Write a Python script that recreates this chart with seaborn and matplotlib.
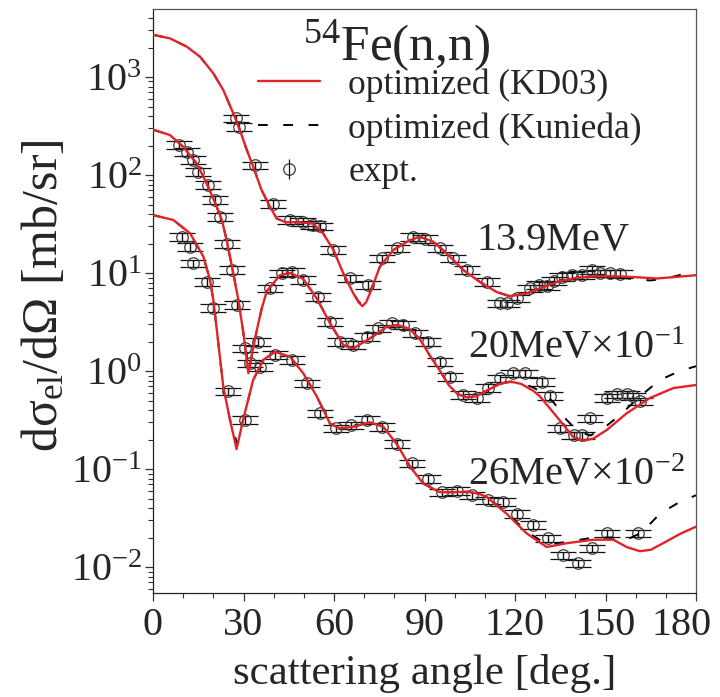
import matplotlib
matplotlib.use("Agg")
import numpy as np
import pandas as pd
import matplotlib.pyplot as plt
import matplotlib.transforms as mtransforms
import seaborn as sns
from matplotlib.lines import Line2D
from matplotlib.legend_handler import HandlerTuple
from matplotlib.ticker import LogLocator, MultipleLocator, LogFormatterMathtext, NullFormatter

# ---------------- data ----------------
# 13.9 MeV, optimized (KD03)
kd13_deg = [0, 5.6, 11.2, 15.6, 20, 23.3, 26.6, 28.8, 31.1, 33.2, 36, 38.8, 41, 44, 48, 53,
            56.4, 59.8, 63.1, 66.4, 68.2, 69.4, 70.6, 71.9, 75.2, 79.7, 85.2, 88.5, 92.9, 97.3,
            102.9, 108.4, 113.9, 118.3, 123.9, 129.4, 135, 140, 145, 150, 156, 162, 167, 173, 180]
kd13_val = [2700, 2480, 2040, 1610, 1090, 736, 427, 288, 180, 122, 70, 47.5, 36, 33, 33, 32,
            25.4, 17.2, 9.9, 6.2, 5.0, 4.6, 5.0, 6.2, 11.6, 17.2, 21.7, 23.4, 20.9, 15.9,
            10.7, 8.1, 6.4, 5.8, 6.2, 7.2, 8.3, 8.9, 9.2, 9.3, 9.2, 9.0, 8.8, 9.1, 9.5]
# 13.9 MeV, optimized (Kunieda)
ku13_deg = [0, 5.6, 11.2, 15.6, 20, 23.3, 26.6, 28.8, 31.1, 33.2, 36, 38.8, 41, 44, 48, 53,
            56.4, 59.8, 63.1, 66.4, 68.2, 69.4, 70.6, 71.9, 75.2, 79.7, 85.2, 88.5, 92.9, 97.3,
            102.9, 108.4, 113.9, 118.3, 123.9, 129.4, 135, 140, 145, 150, 155, 160, 165, 170, 175, 180]
ku13_val = [2700, 2480, 2040, 1610, 1090, 736, 427, 288, 180, 122, 70, 47.5, 36, 33, 33, 32,
            25.4, 17.2, 9.9, 6.2, 5.1, 4.8, 5.2, 6.4, 11.6, 17.2, 21.7, 23.4, 20.9, 15.9,
            10.7, 8.1, 6.4, 5.8, 6.2, 7.2, 8.3, 8.9, 9.2, 9.3, 9.0, 8.6, 8.4, 8.8, 9.6, 10.2]

# 20 MeV x 1e-1, optimized (KD03)
kd20_deg = [0, 5.6, 10, 14.5, 17.8, 21.1, 22.8, 24.4, 26.6, 28.3, 30, 31.6, 33, 34.4, 36, 37.7,
            42.1, 45.4, 49.8, 54.3, 58.7, 63.1, 66.4, 71.9, 77.5, 81, 85, 88.5, 92, 95, 98, 101,
            104, 107, 110.6, 115, 118.5, 122, 126, 128.3, 133.9, 139.4, 143, 146, 150.4, 157,
            164.7, 172.5, 180]
kd20_val = [290, 256, 194, 131, 82, 47.5, 35, 21.7, 10, 5.3, 2.4, 0.95, 1.6, 2.6, 4.3, 6.5,
            9.5, 10, 8.7, 5.5, 3.07, 1.84, 1.7, 2.15, 2.83, 2.95, 2.7, 2.1, 1.4, 1.02, 0.72, 0.58,
            0.54, 0.55, 0.63, 0.74, 0.78, 0.74, 0.63, 0.55, 0.34, 0.21, 0.195, 0.205, 0.25, 0.37,
            0.53, 0.67, 0.72]
# 20 MeV x 1e-1, optimized (Kunieda)
ku20_deg = [0, 5.6, 10, 14.5, 17.8, 21.1, 22.8, 24.4, 26.6, 28.3, 30, 31.8, 33, 34.4, 36, 37.7,
            42.1, 45.4, 49.8, 54.3, 58.7, 63.1, 66.4, 71.9, 77.5, 81, 85, 88.5, 92, 95, 98, 101,
            104, 107, 110.6, 115, 118.5, 122, 126, 130, 133, 137, 141, 145, 150, 155, 161.4,
            168, 174.6, 180]
ku20_val = [290, 256, 194, 131, 82, 47.5, 35, 21.7, 10, 5.3, 2.4, 1.0, 1.6, 2.6, 4.3, 6.5,
            9.5, 10, 8.7, 5.5, 3.07, 1.84, 1.7, 2.15, 2.83, 2.95, 2.7, 2.1, 1.4, 1.02, 0.72, 0.58,
            0.54, 0.55, 0.63, 0.74, 0.78, 0.76, 0.68, 0.58, 0.47, 0.32, 0.24, 0.22, 0.27, 0.36,
            0.55, 0.81, 1.0, 1.12]

# 26 MeV x 1e-2, optimized (KD03)
kd26_deg = [0, 6.7, 12.3, 16.7, 18.9, 20, 21.3, 23.3, 25.5, 27.7, 29.9, 33.2, 36.6, 40.4, 45.4,
            49.8, 54.3, 58.7, 62, 66.4, 71.9, 76.3, 80.8, 85.2, 89.6, 95.1, 100, 104, 108, 110.6,
            117.2, 123.9, 130.5, 137.1, 146, 152.6, 157, 161.4, 165, 169.1, 175, 180]
kd26_val = [39, 34.8, 25.4, 14.7, 8.5, 5.3, 2.4, 0.69, 0.32, 0.16, 0.32, 0.81, 1.3, 1.57, 1.4,
            0.95, 0.55, 0.29, 0.26, 0.27, 0.30, 0.27, 0.18, 0.106, 0.071, 0.058, 0.058, 0.059,
            0.056, 0.052, 0.035, 0.022, 0.016, 0.0175, 0.019, 0.019, 0.016, 0.0145, 0.015,
            0.0175, 0.022, 0.0258]
# 26 MeV x 1e-2, optimized (Kunieda)
ku26_deg = [0, 6.7, 12.3, 16.7, 18.9, 20, 21.3, 23.3, 25.5, 27.9, 29.9, 33.2, 36.6, 40.4, 45.4,
            49.8, 54.3, 58.7, 62, 66.4, 71.9, 76.3, 80.8, 85.2, 89.6, 95.1, 100, 104, 108, 110.6,
            117.2, 123.9, 130.5, 137.1, 146, 152, 157, 161.4, 165, 168, 174, 180]
ku26_val = [39, 34.8, 25.4, 14.7, 8.5, 5.3, 2.4, 0.69, 0.32, 0.18, 0.32, 0.81, 1.3, 1.57, 1.4,
            0.95, 0.55, 0.29, 0.26, 0.27, 0.30, 0.27, 0.18, 0.106, 0.071, 0.058, 0.058, 0.059,
            0.056, 0.052, 0.036, 0.023, 0.017, 0.018, 0.02, 0.02, 0.019, 0.022, 0.028, 0.035,
            0.045, 0.054]

# experimental points
ex13_deg = [27.5, 28.6, 33.8, 39.7, 45.4, 49.8, 53.1, 55.3, 59.8, 65.3, 71.4, 75.8, 80.8, 86.3,
            90.2, 95.1, 99.5, 104, 110.6, 115, 117.5, 120.5, 125, 128, 130.5, 133, 135.5, 138.8,
            142.1, 145.4, 148.2, 151.5, 154.8]
ex13_val = [378, 311, 126, 51, 34.7, 33.4, 30.9, 30, 17.2, 8.8, 7.6, 14.1, 17.9, 23.4,
            22.5, 17.9, 14.1, 10.7, 8.1, 4.9, 4.9, 5.5, 7.0, 7.6, 7.4, 8.3, 9.2, 9.5,
            9.6, 10.7, 9.9, 9.9, 9.8]
ex20_deg = [8.5, 11.2, 13.4, 15, 18.3, 20.5, 22.2, 24.4, 26.1, 27.7, 30.5, 32.2, 34.9, 35.5,
            38.8, 42.6, 46, 49.8, 54.8, 58.7, 62, 66.4, 70.8, 74.7, 79.1, 83, 86.8, 91.3, 95.1,
            98.4, 102.9, 107.3, 111.1, 115, 119.4, 123.3, 128.8, 131.6, 135, 139.4, 142.1,
            144.8, 150.4, 153.7, 157, 159.2, 161.4]
ex20_val = [202, 173, 142, 108, 79, 56, 37.6, 20, 10.7, 4.7, 1.7, 1.2, 2.0, 1.1,
            7.0, 9.9, 10.3, 8.5, 5.7, 3.2, 2.0, 1.84, 2.24, 2.73, 3.07, 2.94, 2.42, 2.0, 1.25,
            0.87, 0.57, 0.53, 0.67, 0.84, 0.95, 0.95, 0.78, 0.56, 0.26, 0.22, 0.22,
            0.33, 0.53, 0.58, 0.58, 0.55, 0.49]
ex26_deg = [9.5, 12.3, 13.4, 17.8, 20, 25, 30.5, 40.4, 46, 50.9, 55.3, 60.8, 65.8, 70.8, 75.8,
            80.8, 85.7, 91.3, 95.7, 100.7, 105.6, 111.1, 116.1, 120.5, 126, 131, 136, 141,
            145.4, 150.4, 160.9]
ex26_val = [23.4, 18.5, 12.6, 8.1, 4.4, 0.62, 0.316, 1.46, 1.3, 0.75, 0.37, 0.26, 0.28, 0.316,
            0.27, 0.18, 0.114, 0.08, 0.058, 0.06, 0.054, 0.048, 0.046, 0.035, 0.027, 0.0196,
            0.0132, 0.0109, 0.0155, 0.022, 0.022]
rel_err = 0.09

x_ticks = [0, 30, 60, 90, 120, 150, 180]

# ---------------- style ----------------
sns.set_style("ticks")
plt.rcParams["font.family"] = ["Liberation Serif", "DejaVu Serif"]
plt.rcParams["mathtext.fontset"] = "custom"
plt.rcParams["mathtext.rm"] = "Liberation Serif"
plt.rcParams["mathtext.it"] = "Liberation Serif:italic"
plt.rcParams["mathtext.bf"] = "Liberation Serif:bold"

RED = "#e2232a"
W, H = 720, 697
fig = plt.figure(figsize=(W / 100, H / 100), dpi=100)
ax = fig.add_axes([153 / W, 1 - 593 / H, (696 - 153) / W, (593 - 9) / H])
ax.set_yscale("log")

# experimental data
for d, v in [(ex13_deg, ex13_val), (ex20_deg, ex20_val), (ex26_deg, ex26_val)]:
    d = np.asarray(d); v = np.asarray(v)
    ax.errorbar(d, v, yerr=v * rel_err, fmt="o", mfc="none", mec="#3a3a3a", mew=0.9, ms=8.3,
                ecolor="#111111", elinewidth=1.0, capsize=9.5, capthick=1.6, zorder=2)

# calculations
for d, v in [(ku13_deg, ku13_val), (ku20_deg, ku20_val), (ku26_deg, ku26_val)]:
    df = pd.DataFrame({"deg": d, "val": v})
    sns.lineplot(data=df, x="deg", y="val", ax=ax, color="black", lw=1.4,
                 linestyle=(0, (5, 8)), zorder=3, legend=False)
for d, v in [(kd13_deg, kd13_val), (kd20_deg, kd20_val), (kd26_deg, kd26_val)]:
    df = pd.DataFrame({"deg": d, "val": v})
    sns.lineplot(data=df, x="deg", y="val", ax=ax, color=RED, lw=1.7, zorder=4, legend=False)

ax.set_xlim(0, 180)
ax.set_ylim(10 ** -2.265, 10 ** 3.694)
ax.set_xticks(x_ticks)
ax.set_xticklabels([str(t) for t in x_ticks])
ax.xaxis.set_minor_locator(MultipleLocator(10))
ax.yaxis.set_major_locator(LogLocator(base=10, numticks=20))
ax.yaxis.set_major_formatter(LogFormatterMathtext())
ax.yaxis.set_minor_locator(LogLocator(base=10, subs=np.arange(2, 10), numticks=100))
ax.yaxis.set_minor_formatter(NullFormatter())
ax.tick_params(axis="both", which="major", direction="out", length=6, width=0.9, color="#333")
ax.tick_params(axis="both", which="minor", direction="out", length=3.5, width=0.8, color="#333")
ax.tick_params(axis="x", which="major", labelsize=29, pad=4)
ax.tick_params(axis="y", which="major", labelsize=29, pad=2)
ax.tick_params(right=False, top=False, which="both")
for s in ax.spines.values():
    s.set_visible(True)
    s.set_linewidth(0.9)
    s.set_color("#555555")
ax.spines["left"].set_color("#222222")
ax.spines["bottom"].set_color("#222222")

# shift the last x tick label left so it stays inside the figure (as in the reference)
last = ax.get_xticklabels()[-1]
last.set_transform(last.get_transform() + mtransforms.ScaledTranslation(-14 / 100, 0, fig.dpi_scale_trans))

ax.set_xlabel("scattering angle [deg.]", fontsize=31)
ax.xaxis.set_label_coords(0.5, -0.105)
ax.set_ylabel("d\u03c3$_{\\rm el}$/d\u03a9 [mb/sr]", fontsize=36)
ax.yaxis.set_label_coords(-0.157, 0.51)

# annotations
def fx(px):
    return px / W

def fy(py):
    return 1 - py / H

fig.text(fx(303), fy(60), "$^{54}$Fe(n,n)", fontsize=37, ha="left", va="baseline")
fig.text(fx(477), fy(250), "13.9MeV", fontsize=29, ha="left", va="baseline")
fig.text(fx(468), fy(358), "20MeV\u00d710$^{-1}$", fontsize=29, ha="left", va="baseline")
fig.text(fx(468), fy(485), "26MeV\u00d710$^{-2}$", fontsize=29, ha="left", va="baseline")

# legend
h_kd = Line2D([], [], color=RED, lw=1.7)
h_ku = Line2D([], [], color="black", lw=1.4, linestyle=(0, (5, 8)))
h_c = Line2D([], [], ls="none", marker="o", mfc="none", mec="#3a3a3a", mew=0.9, ms=8.3)
h_v = Line2D([], [], ls="none", marker="|", color="#1a1a1a", mew=0.9, ms=15)
ax.legend([h_kd, h_ku, (h_c, h_v)], ["optimized (KD03)", "optimized (Kunieda)", "expt."],
          handler_map={tuple: HandlerTuple(ndivide=1, pad=0)},
          loc="upper left", bbox_to_anchor=(fx(258), fy(68)), bbox_transform=fig.transFigure,
          frameon=False, fontsize=25.5, borderpad=0, borderaxespad=0, handlelength=1.75,
          handletextpad=0.8, labelspacing=0.3)

fig.savefig("out.png", dpi=100)
